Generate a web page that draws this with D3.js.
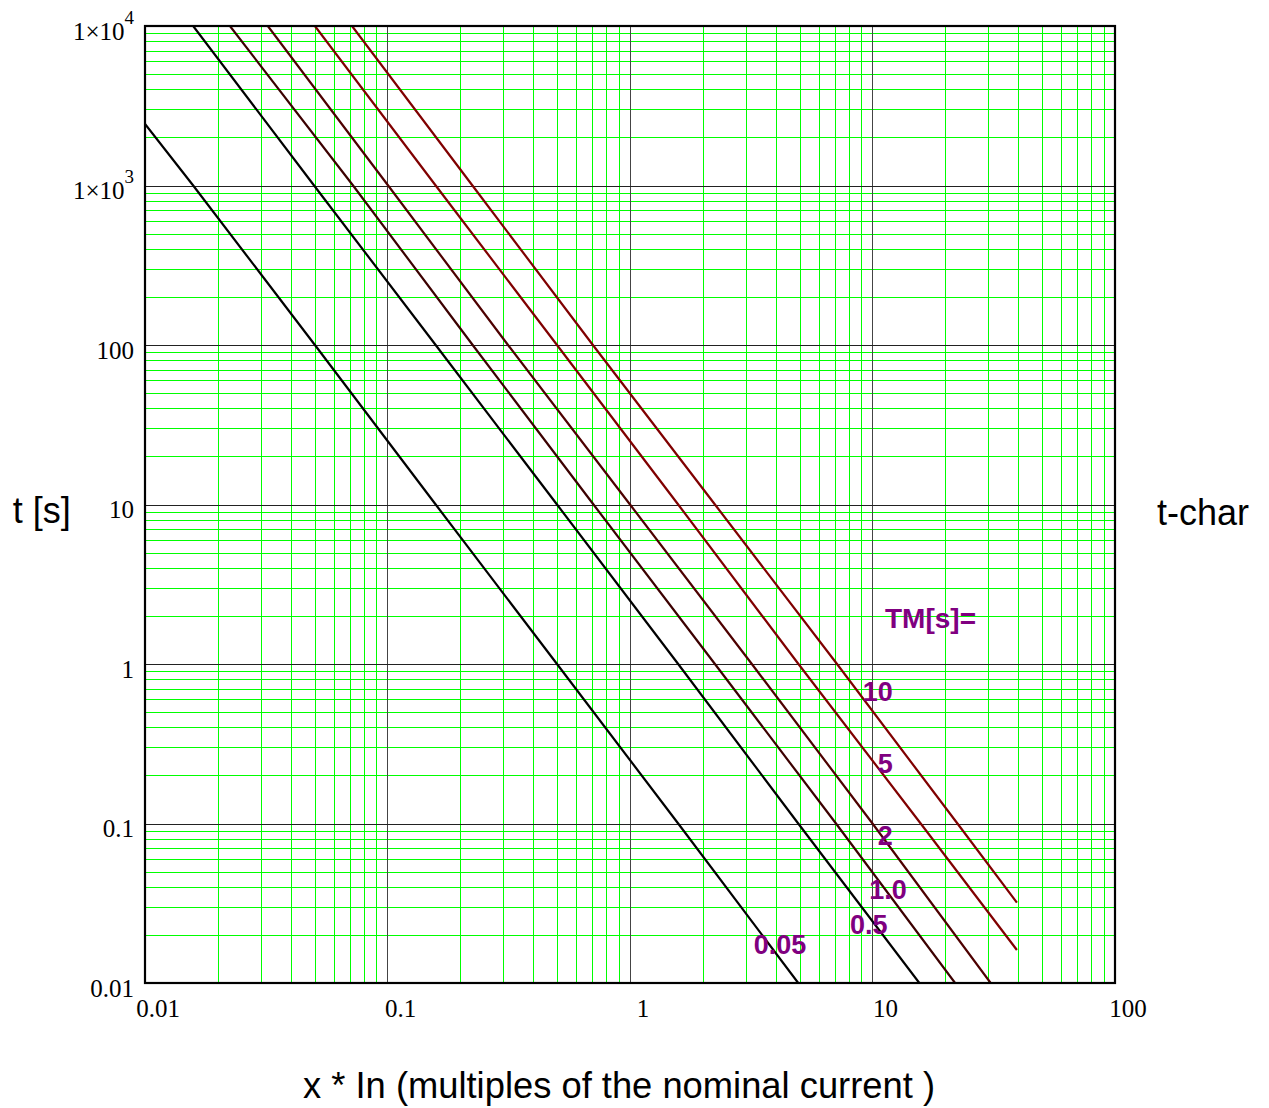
<!DOCTYPE html>
<html>
<head>
<meta charset="utf-8">
<script src="https://cdn.jsdelivr.net/npm/d3@7/dist/d3.min.js"></script>
<style>
  html, body { margin: 0; padding: 0; background: #ffffff; }
  svg { display: block; }
</style>
</head>
<body>
<svg id="chart" width="1269" height="1108"></svg>
<script>
// ---------- data ----------
const tmLabels = ["0.05", "0.5", "1.0", "2", "5", "10"];
const curveColors = ["#000000", "#000000", "#3c0000", "#4e0000", "#800000", "#800000"];

const x_005 = [0.01, 0.0158, 0.0502, 0.158, 0.50, 1.58, 4.94];
const t_005 = [2430, 1000, 100, 10, 1, 0.1, 0.01];
const x_05 = [0.0158, 0.0498, 0.158, 0.50, 1.58, 4.94, 15.6];
const t_05 = [10000, 1000, 100, 10, 1, 0.1, 0.01];
const x_1 = [0.0224, 0.0721, 0.2245, 0.707, 2.24, 7.07, 21.9];
const t_1 = [10000, 1000, 100, 10, 1, 0.1, 0.01];
const x_2 = [0.0321, 0.1006, 0.314, 1.0, 3.18, 10.0, 30.7];
const t_2 = [10000, 1000, 100, 10, 1, 0.1, 0.01];
const x_5 = [0.0502, 0.158, 0.50, 1.58, 4.95, 15.8, 39.4];
const t_5 = [10000, 1000, 100, 10, 1, 0.1, 0.0161];
const x_10 = [0.0714, 0.224, 0.703, 2.24, 7.14, 22.4, 39.4];
const t_10 = [10000, 1000, 100, 10, 1, 0.1, 0.0319];

const xTicks = [0.01, 0.1, 1, 10, 100];
const xTickLabels = ["0.01", "0.1", "1", "10", "100"];
const yTicks = [0.01, 0.1, 1, 10, 100, 1000, 10000];
const yTickLabels = ["0.01", "0.1", "1", "10", "100", "1×10", "1×10"];
const yTickSups = ["", "", "", "", "", "3", "4"];

// curve label anchor points (data coordinates: x multiple, t seconds)
const labelX = [3.24, 8.07, 9.70, 10.5, 10.5, 9.11];
const labelT = [0.0152, 0.0203, 0.0335, 0.0733, 0.2066, 0.586];
const headerText = "TM[s]=";
const headerX = 11.26, headerT = 1.68;

const xTitle = "x * In (multiples of the nominal current )";
const yTitle = "t [s]";
const rightTitle = "t-char";

// ---------- layout ----------
const L = 145, R = 1115, T = 26, B = 983;
const svg = d3.select("#chart");
svg.append("rect").attr("width", 1269).attr("height", 1108).attr("fill", "#fff");

const x = d3.scaleLog().domain([0.01, 100]).range([L, R]);
const y = d3.scaleLog().domain([0.01, 10000]).range([B, T]);

const crisp = v => Math.round(v) + 0.5;

// minor grid values
const minorX = [], minorY = [];
for (let e = -2; e < 2; e++) for (let m = 2; m <= 9; m++) minorX.push(m * Math.pow(10, e));
for (let e = -2; e < 4; e++) for (let m = 2; m <= 9; m++) minorY.push(m * Math.pow(10, e));

const grid = svg.append("g").attr("shape-rendering", "crispEdges");
grid.append("g").selectAll("line").data(minorX).join("line")
  .attr("x1", d => crisp(x(d))).attr("x2", d => crisp(x(d)))
  .attr("y1", T).attr("y2", B)
  .attr("stroke", "#00ff00").attr("stroke-width", 1);
grid.append("g").selectAll("line").data(minorY).join("line")
  .attr("x1", L).attr("x2", R)
  .attr("y1", d => crisp(y(d))).attr("y2", d => crisp(y(d)))
  .attr("stroke", "#00ff00").attr("stroke-width", 1);

// major grid
grid.append("g").selectAll("line").data(xTicks.slice(1, -1)).join("line")
  .attr("x1", d => crisp(x(d))).attr("x2", d => crisp(x(d)))
  .attr("y1", T).attr("y2", B)
  .attr("stroke", "#444").attr("stroke-width", 1);
grid.append("g").selectAll("line").data(yTicks.slice(1, -1)).join("line")
  .attr("x1", L).attr("x2", R)
  .attr("y1", d => crisp(y(d))).attr("y2", d => crisp(y(d)))
  .attr("stroke", "#222").attr("stroke-width", 1);

// curves
const curveXs = [x_005, x_05, x_1, x_2, x_5, x_10];
const curveTs = [t_005, t_05, t_1, t_2, t_5, t_10];
svg.append("clipPath").attr("id", "clip")
  .append("rect").attr("x", L).attr("y", T).attr("width", R - L).attr("height", B - T);
const line = d3.line().x(d => x(d[0])).y(d => y(d[1]));
const cg = svg.append("g").attr("clip-path", "url(#clip)");
tmLabels.forEach((lab, i) => {
  const pts = curveXs[i].map((v, j) => [v, curveTs[i][j]]);
  cg.append("path").datum(pts)
    .attr("d", line)
    .attr("fill", "none")
    .attr("stroke", curveColors[i])
    .attr("stroke-width", 2.2);
});

// frame
svg.append("rect").attr("x", L).attr("y", T).attr("width", R - L).attr("height", B - T)
  .attr("fill", "none").attr("stroke", "#000").attr("stroke-width", 2.2);

// tick labels
const serif = "'Liberation Serif', 'Times New Roman', Times, serif";
svg.append("g").selectAll("text").data(xTicks).join("text")
  .attr("x", d => x(d) + 13).attr("y", 1017)
  .attr("text-anchor", "middle")
  .attr("font-family", serif).attr("font-size", 25)
  .text((d, i) => xTickLabels[i]);

const yl = svg.append("g");
yTicks.forEach((d, i) => {
  const t = yl.append("text")
    .attr("x", 134).attr("y", y(d) + 13.5)
    .attr("text-anchor", "end")
    .attr("font-family", serif).attr("font-size", 25);
  t.append("tspan").text(yTickLabels[i]);
  if (yTickSups[i]) {
    t.append("tspan").attr("dy", -16).attr("font-size", 19).text(yTickSups[i]);
  }
});

// curve labels
const sansB = "'Liberation Sans', Arial, Helvetica, sans-serif";
svg.append("g").selectAll("text").data(tmLabels).join("text")
  .attr("x", (d, i) => x(labelX[i])).attr("y", (d, i) => y(labelT[i]))
  .attr("font-family", sansB).attr("font-weight", "bold").attr("font-size", 27)
  .attr("fill", "#800080")
  .text(d => d);
svg.append("text")
  .attr("x", x(headerX)).attr("y", y(headerT))
  .attr("font-family", sansB).attr("font-weight", "bold").attr("font-size", 28)
  .attr("fill", "#800080")
  .text(headerText);

// axis titles
svg.append("text").attr("x", 12.7).attr("y", 523)
  .attr("font-family", sansB).attr("font-size", 36).attr("fill", "#000").text(yTitle);
svg.append("text").attr("x", 1157).attr("y", 525)
  .attr("font-family", sansB).attr("font-size", 36).attr("fill", "#000").text(rightTitle);
svg.append("text").attr("x", 303).attr("y", 1098)
  .attr("font-family", sansB).attr("font-size", 36).attr("fill", "#000")
  .attr("textLength", 632).attr("lengthAdjust", "spacingAndGlyphs")
  .text(xTitle);
</script>
</body>
</html>
